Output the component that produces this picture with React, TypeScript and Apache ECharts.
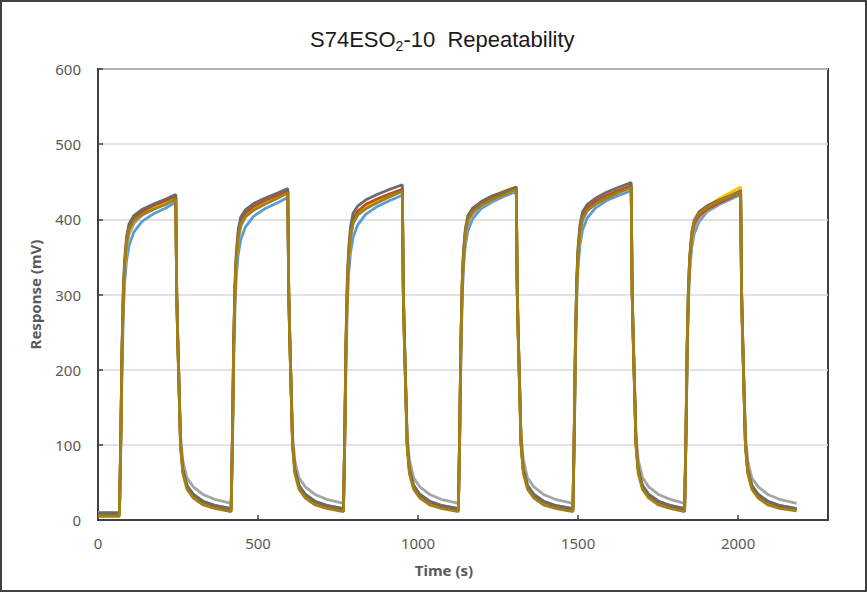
import React, { useEffect, useRef } from "react";
import * as echarts from "echarts";

// Shared time axis (s)
const TIME = [
  0, 20, 45,
  67, 71, 75, 79, 83, 89, 97, 112, 137, 172, 212, 243, 246, 249, 253, 258, 265, 278, 298, 328, 368,
  416, 420, 424, 428, 432, 438, 446, 461, 486, 521, 561, 593, 596, 599, 603, 608, 615, 628, 648, 678, 718,
  767, 771, 775, 779, 783, 789, 797, 812, 837, 872, 912, 951, 954, 957, 961, 966, 973, 986, 1006, 1036, 1076,
  1126, 1130, 1134, 1138, 1142, 1148, 1156, 1171, 1196, 1231, 1271, 1307, 1310, 1313, 1317, 1322, 1329, 1342, 1362, 1392, 1432,
  1484, 1488, 1492, 1496, 1500, 1506, 1514, 1529, 1554, 1589, 1629, 1666, 1669, 1672, 1676, 1681, 1688, 1701, 1721, 1751, 1791,
  1833, 1837, 1841, 1845, 1849, 1855, 1863, 1878, 1903, 1938, 1978, 2008, 2011, 2014, 2018, 2023, 2030, 2043, 2063, 2093, 2133,
  2183,
];

const RUN_BLUE = [
  9, 9, 9,
  8, 90, 200, 275, 315, 345, 365, 383, 397, 407, 415, 423, 298, 243, 180, 101, 68, 46, 34, 25, 19,
  15, 95, 208, 283, 323, 353, 373, 390, 404, 414, 422, 429, 300, 245, 182, 102, 68, 46, 34, 25, 19,
  15, 97, 210, 286, 326, 356, 376, 393, 407, 417, 425, 432, 301, 246, 182, 102, 68, 46, 34, 25, 19,
  15, 100, 218, 295, 336, 366, 385, 401, 414, 423, 431, 437, 303, 247, 183, 103, 68, 46, 34, 25, 19,
  15, 100, 218, 295, 336, 366, 386, 402, 415, 425, 432, 438, 303, 247, 183, 103, 68, 46, 34, 25, 19,
  15, 98, 214, 290, 331, 362, 381, 397, 410, 419, 427, 433, 301, 246, 182, 102, 68, 46, 34, 25, 19,
  15,
];

const RUN_GRAY = [
  10, 10, 10,
  10, 100, 215, 290, 330, 360, 380, 394, 405, 413, 421, 428, 305, 250, 190, 112, 79, 56, 44, 34, 27,
  22, 105, 225, 300, 340, 370, 390, 403, 413, 421, 429, 436, 307, 252, 191, 113, 79, 56, 44, 34, 27,
  22, 108, 228, 304, 344, 374, 394, 407, 417, 425, 433, 440, 308, 253, 192, 113, 80, 56, 44, 34, 27,
  22, 108, 228, 304, 344, 374, 394, 407, 417, 425, 433, 440, 308, 253, 192, 113, 80, 56, 44, 34, 27,
  22, 110, 232, 308, 348, 378, 398, 411, 421, 429, 437, 444, 310, 254, 193, 114, 80, 57, 44, 34, 27,
  22, 103, 222, 298, 338, 368, 388, 401, 411, 420, 429, 436, 307, 252, 191, 113, 79, 56, 44, 34, 27,
  22,
];

const RUN_YELLOW = [
  8, 8, 8,
  8, 100, 220, 295, 335, 366, 385, 398, 407, 415, 422, 428, 300, 245, 181, 101, 67, 45, 33, 24, 18,
  13, 106, 230, 305, 345, 376, 394, 406, 414, 422, 430, 436, 302, 246, 182, 102, 67, 45, 33, 24, 18,
  13, 108, 233, 308, 348, 379, 397, 408, 416, 424, 432, 438, 303, 247, 183, 102, 67, 45, 33, 24, 18,
  13, 112, 240, 316, 356, 386, 404, 415, 423, 431, 438, 443, 304, 248, 184, 103, 67, 45, 33, 24, 18,
  13, 112, 240, 316, 356, 386, 404, 415, 423, 431, 438, 444, 304, 248, 184, 103, 67, 45, 33, 24, 18,
  13, 108, 232, 306, 346, 377, 395, 407, 417, 427, 436, 443, 304, 248, 184, 103, 67, 45, 33, 24, 18,
  13,
];

const RUN_BROWN = [
  9, 9, 9,
  9, 105, 225, 300, 340, 371, 390, 402, 410, 418, 425, 431, 299, 244, 180, 100, 66, 44, 33, 24, 18,
  13, 110, 235, 310, 350, 380, 398, 409, 417, 425, 432, 438, 301, 245, 181, 101, 66, 44, 33, 24, 18,
  13, 112, 238, 313, 353, 383, 401, 411, 420, 427, 434, 440, 302, 246, 182, 101, 66, 44, 33, 24, 18,
  13, 112, 238, 313, 353, 383, 401, 412, 421, 428, 435, 441, 302, 246, 182, 101, 66, 44, 33, 24, 18,
  13, 115, 243, 318, 358, 388, 406, 416, 424, 432, 439, 445, 304, 248, 183, 102, 66, 44, 33, 24, 18,
  13, 108, 232, 306, 346, 376, 394, 405, 413, 421, 429, 436, 301, 245, 181, 101, 66, 44, 33, 24, 18,
  14,
];

const RUN_DARKGRAY = [
  9, 9, 9,
  9, 110, 232, 305, 345, 376, 394, 405, 413, 420, 427, 433, 301, 246, 182, 102, 68, 46, 34, 25, 19,
  15, 115, 240, 315, 355, 386, 403, 413, 421, 428, 435, 441, 304, 248, 183, 103, 68, 46, 34, 25, 19,
  15, 118, 245, 320, 360, 390, 408, 418, 426, 433, 440, 446, 306, 250, 185, 104, 69, 46, 34, 25, 19,
  15, 115, 242, 318, 358, 388, 405, 415, 423, 431, 437, 443, 305, 249, 184, 103, 68, 46, 34, 25, 19,
  15, 120, 248, 323, 363, 393, 410, 420, 428, 436, 443, 449, 308, 251, 186, 104, 69, 46, 34, 25, 19,
  15, 113, 238, 312, 352, 382, 399, 410, 418, 425, 432, 438, 303, 247, 183, 103, 68, 46, 34, 25, 19,
  15,
];

const RUN_OLIVE = [
  5, 5, 5,
  5, 100, 222, 297, 337, 368, 386, 398, 406, 413, 420, 427, 296, 240, 176, 96, 62, 41, 29, 20, 15,
  11, 105, 230, 305, 345, 375, 393, 404, 412, 420, 428, 435, 297, 241, 177, 97, 62, 41, 29, 20, 15,
  11, 107, 232, 307, 347, 377, 395, 406, 414, 422, 430, 437, 298, 242, 178, 97, 62, 41, 29, 20, 15,
  11, 109, 236, 311, 351, 381, 399, 410, 418, 426, 433, 440, 299, 243, 178, 98, 62, 41, 29, 20, 15,
  11, 110, 238, 313, 353, 383, 401, 412, 420, 428, 436, 442, 300, 243, 179, 98, 62, 41, 29, 20, 15,
  11, 108, 234, 309, 349, 379, 397, 408, 416, 424, 431, 436, 298, 242, 178, 97, 62, 41, 29, 20, 15,
  12,
];

const SERIES = [
  { name: "Run 1", values: RUN_BLUE, color: "#5B9BD5" },
  { name: "Run 2", values: RUN_GRAY, color: "#A5A5A5" },
  { name: "Run 3", values: RUN_YELLOW, color: "#FFC000" },
  { name: "Run 4", values: RUN_BROWN, color: "#B5532B" },
  { name: "Run 5", values: RUN_DARKGRAY, color: "#6E6A66" },
  { name: "Run 6", values: RUN_OLIVE, color: "#A38010" },
];

const X_MAX = 2281;
const Y_MAX = 600;

export default function App() {
  const ref = useRef<HTMLDivElement>(null);

  useEffect(() => {
    document.body.style.margin = "0";
    if (!ref.current) return;
    const chart = echarts.init(ref.current, null, { renderer: "svg" });
    const labelFont = "Noto Sans";
    chart.setOption({
      animation: false,
      backgroundColor: "#ffffff",
      title: {
        text: "{a|S74ESO}{s|2}{a|-10  Repeatability}",
        left: 305,
        top: 20,
        textStyle: {
          rich: {
            a: { fontFamily: "Liberation Sans", fontSize: 22, fontWeight: "normal", color: "#1a1a1a", lineHeight: 28 },
            s: { fontFamily: "Liberation Sans", fontSize: 14, fontWeight: "normal", color: "#1a1a1a", lineHeight: 28, verticalAlign: "bottom" },
          },
        },
      },
      graphic: [
        {
          type: "rect",
          shape: { x: 1, y: 1, width: 865, height: 590 },
          style: { fill: "none", stroke: "#404040", lineWidth: 2 },
          silent: true,
          z: 100,
        },
      ],
      grid: {
        left: 98,
        right: 39,
        top: 69,
        bottom: 72,
        show: true,
        borderColor: "#404040",
        borderWidth: 2,
        backgroundColor: "transparent",
      },
      xAxis: {
        type: "value",
        min: 0,
        max: X_MAX,
        interval: 500,
        name: "Time (s)",
        nameLocation: "middle",
        nameGap: 42,
        nameTextStyle: { fontFamily: labelFont, fontSize: 15, fontWeight: "bold", color: "#595959", padding: [0, 38, 0, 0] },
        axisLine: { show: true, lineStyle: { color: "#404040", width: 2 } },
        axisTick: { show: true, inside: true, length: 5, lineStyle: { color: "#404040", width: 1.5 } },
        axisLabel: {
          fontFamily: labelFont,
          fontSize: 15,
          color: "#595959",
          margin: 15,
          showMaxLabel: false,
          formatter: (v: number) => (v % 500 === 0 ? String(v) : ""),
        },
        splitLine: { show: false },
      },
      yAxis: {
        type: "value",
        min: 0,
        max: Y_MAX,
        interval: 100,
        name: "Response (mV)",
        nameLocation: "middle",
        nameGap: 56,
        nameRotate: 90,
        nameTextStyle: { fontFamily: labelFont, fontSize: 15, fontWeight: "bold", color: "#595959" },
        axisLine: { show: true, lineStyle: { color: "#404040", width: 2 } },
        axisTick: { show: true, inside: true, length: 5, lineStyle: { color: "#404040", width: 1.5 } },
        axisLabel: { fontFamily: labelFont, fontSize: 15, color: "#595959", margin: 17 },
        splitLine: { show: true, lineStyle: { color: "#d9d9d9", width: 1.5 } },
      },
      series: SERIES.map((s) => ({
        name: s.name,
        type: "line",
        showSymbol: false,
        symbol: "none",
        smooth: false,
        lineStyle: { color: s.color, width: 2.8 },
        itemStyle: { color: s.color },
        data: TIME.map((t, i) => [t, s.values[i]]),
      })),
    });
    return () => chart.dispose();
  }, []);

  return <div ref={ref} style={{ width: 867, height: 592 }} />;
}
